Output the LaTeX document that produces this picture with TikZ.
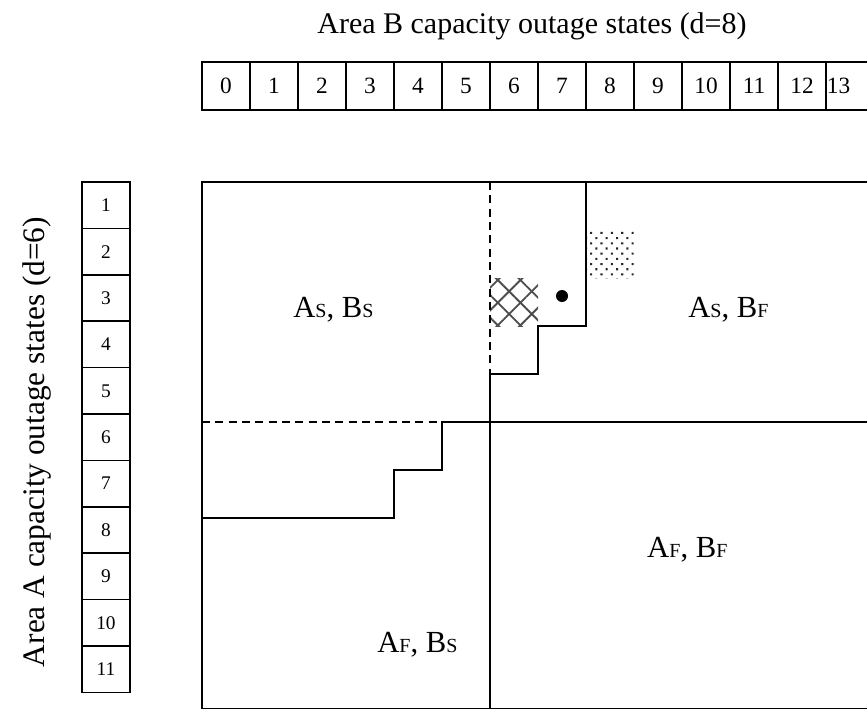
\documentclass[tikz,border=0pt]{standalone}
\usepackage{fontspec}
\setmainfont{Liberation Serif}
\usetikzlibrary{patterns,patterns.meta}

% small upright letter used as index in the region names
\newcommand{\regsub}[1]{{\fontsize{15}{15}\selectfont #1}}

\begin{document}
\begin{tikzpicture}[x=36pt, y=-36pt,
  every node/.style={inner sep=0pt},
  bcell/.style={draw, line width=1.1pt, minimum width=36pt, minimum height=36pt,
    font=\fontsize{17.5}{17.5}\selectfont},
  acell/.style={draw, line width=1.1pt, minimum width=36pt, minimum height=34.8pt,
    font=\fontsize{14.5}{14.5}\selectfont},
  region/.style={anchor=base west, font=\fontsize{23}{23}\selectfont},
  axistitle/.style={anchor=base, font=\fontsize{22.5}{22.5}\selectfont},
  bound/.style={line width=1.2pt},
  split/.style={line width=1.2pt, dash pattern=on 6pt off 4pt}]
  \useasboundingbox (-4.2083,-3.7917) rectangle (13.854,11);
  \clip (-4.2083,-3.7917) rectangle (13.854,11);

  % Area B outage states (row of cells)
  \foreach \b in {0,...,12}
    \node[bcell] (b\b) at (\b+0.5,-2) {\b};
  \node[bcell] (b13) at (13.5,-2) {};
  \node[anchor=west, font=\fontsize{17.5}{17.5}\selectfont] (b13num) at ([xshift=1pt]b13.west) {13};
  \node[axistitle] (titleB) at (6.875,-3.104) {Area B capacity outage states (d=8)};

  % Area A outage states (column of cells)
  \foreach \a in {1,...,11}
    \node[acell] (a\a) at (-2,{(\a-0.5)*0.9667}) {\a};
  \node[axistitle, rotate=90, font=\fontsize{23.5}{23.5}\selectfont] (titleA)
    at (-3.29,5.417) {Area A capacity outage states (d=6)};

  % shaded states
  \fill[pattern={Lines[angle=45, distance=12pt, line width=1.4pt]}, pattern color=black!70]
    (6,2) rectangle (7,3);
  \fill[pattern={Lines[angle=-45, distance=12pt, line width=1.4pt]}, pattern color=black!70]
    (6,2) rectangle (7,3);
  \fill[pattern={Dots[angle=45, distance=5.5pt, radius=1.1pt]}, pattern color=black!85]
    (8,1) rectangle (9,2);
  \fill (7.5,2.375) circle (4.5pt);

  % state space and boundaries
  \draw[bound] (0,0) rectangle (14,10.97);
  \draw[split] (6,0) -- (6,4);
  \draw[split] (0,5) -- (5,5);
  \draw[bound] (8,0) -- (8,3) -- (7,3) -- (7,4) -- (6,4) -- (6,10.97);
  \draw[bound] (14,5) -- (5,5) -- (5,6) -- (4,6) -- (4,7) -- (0,7);

  % regions
  \node[region] (ss) at (1.896,2.833) {A\regsub{S}, B\regsub{S}};
  \node[region] (sf) at (10.125,2.833) {A\regsub{S}, B\regsub{F}};
  \node[region] (ff) at (9.27,7.83) {A\regsub{F}, B\regsub{F}};
  \node[region] (fs) at (3.646,9.81) {A\regsub{F}, B\regsub{S}};
\end{tikzpicture}
\end{document}
